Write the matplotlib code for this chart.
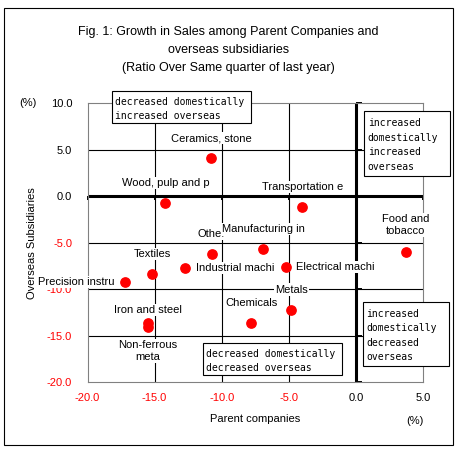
import numpy as np
import matplotlib
matplotlib.use('Agg')
import matplotlib.pyplot as plt
from matplotlib.patches import Rectangle

plt.rcParams['font.family'] = ['Liberation Sans', 'DejaVu Sans']

# Data
industries = ['Ceramics, stone', 'Wood, pulp and p', 'Transportation e', 'Othe.',
              'Manufacturing in', 'Food and\ntobacco', 'Textiles', 'Industrial machi',
              'Electrical machi', 'Precision instru', 'Metals', 'Chemicals',
              'Iron and steel', 'Non-ferrous\nmeta']
parent = [-10.8, -14.2, -4.0, -10.7, -6.9, 3.7, -15.2, -12.7, -5.2, -17.2, -4.8, -7.8, -15.5, -15.5]
overseas = [4.1, -0.7, -1.2, -6.2, -5.7, -6.0, -8.4, -7.7, -7.6, -9.2, -12.2, -13.6, -14.1, -13.6]

x_ticks = [-20, -15, -10, -5, 0, 5]
y_ticks = [-20, -15, -10, -5, 0, 5, 10]

# label placement (offset in points, ha)
label_pos = [((0, 14.4), 'center'), ((0, 14.4), 'center'), ((0, 14.4), 'center'),
             ((-1.2, 14.4), 'center'), ((0, 14.4), 'center'), ((0, 19.4), 'center'),
             ((0, 14.4), 'center'), ((7.7, 0), 'left'), ((7.2, 0), 'left'),
             ((-7.9, 0), 'right'), ((0, 14.4), 'center'), ((0, 14.4), 'center'),
             ((0, 12.6), 'center'), ((0, -20.5), 'center')]

W, H = 456, 451
fig = plt.figure(figsize=(W / 100, H / 100), dpi=100)
ax = fig.add_axes([87.5 / W, 1 - 382 / H, 335.5 / W, 278.7 / H])
ax.set_xlim(-20, 5)
ax.set_ylim(-20, 10)

for s in ax.spines.values():
    s.set_color('#808080')
    s.set_linewidth(0.8)

# interior grid lines
for v in x_ticks[1:-1]:
    if v != 0:
        ax.axvline(v, color='black', lw=0.8, zorder=1)
for v in y_ticks[1:-1]:
    if v != 0:
        ax.axhline(v, color='black', lw=0.8, zorder=1)
ax.axvline(0, color='black', lw=2.2, zorder=2)
ax.axhline(0, color='black', lw=2.2, zorder=2)
ax.plot(np.zeros(len(y_ticks)), y_ticks, ls='none', marker=1, ms=4, mew=1.4,
        color='black', zorder=2, clip_on=False)
ax.plot(x_ticks, np.zeros(len(x_ticks)), ls='none', marker=3, ms=3, mew=1.4,
        color='black', zorder=2, clip_on=False)

ax.scatter(parent, overseas, s=45, color='#ff0000', zorder=6, clip_on=False)

for name, x, y, (off, ha) in zip(industries, parent, overseas, label_pos):
    ax.annotate(name, (x, y), xytext=off, textcoords='offset points', ha=ha,
                va='center', fontsize=8, zorder=5, multialignment='center',
                bbox=dict(boxstyle='square,pad=0.1', fc='white', ec='none'))

ax.set_xticks(x_ticks)
ax.set_xticklabels([f'{v:.1f}' for v in x_ticks])
ax.set_yticks(y_ticks)
ax.set_yticklabels([f'{v:.1f}' for v in y_ticks])
ax.tick_params(axis='both', length=0, labelsize=8)
ax.tick_params(axis='y', pad=11)
ax.tick_params(axis='x', pad=8)
for lab, v in zip(ax.get_xticklabels(), x_ticks):
    lab.set_color('red' if v < 0 else 'black')
for lab, v in zip(ax.get_yticklabels(), y_ticks):
    lab.set_color('red' if v < 0 else 'black')

ax.set_xlabel('Parent companies', fontsize=8)
ax.set_ylabel('Overseas Subsidiaries', fontsize=8, va='center')
ax.xaxis.set_label_coords(0.5, -0.115)
ax.yaxis.set_label_coords(-0.165, 0.5)

fig.text(28 / W, 1 - 103 / H, '(%)', fontsize=8, ha='center', va='center')
fig.text(415 / W, 1 - 420.7 / H, '(%)', fontsize=8, ha='center', va='center')

fig.text(228.5 / W, 1 - 50 / H,
         'Fig. 1: Growth in Sales among Parent Companies and\noverseas subsidiaries\n'
         '(Ratio Over Same quarter of last year)',
         fontsize=9, ha='center', va='center', linespacing=1.65)

# quadrant boxes: text, box left, top, right, bottom, text offset (px)
boxes = [('decreased domestically\nincreased overseas', 111.7, 91, 250.7, 123.3, 5.7),
         ('increased\ndomestically\nincreased\noverseas', 364.3, 111, 450, 176.3, 7.3),
         ('decreased domestically\ndecreased overseas', 203, 343, 342, 375, 5.7),
         ('increased\ndomestically\ndecreased\noverseas', 363, 302, 449, 366, 6.7)]
for txt, x0, y0, x1, y1, dy in boxes:
    fig.patches.append(Rectangle((x0 / W, 1 - y1 / H), (x1 - x0) / W, (y1 - y0) / H,
                                 transform=fig.transFigure, fc='white', ec='black',
                                 lw=0.8, zorder=9))
    fig.text((x0 + 3.4) / W, 1 - (y0 + dy) / H, txt, family='DejaVu Sans Mono',
             fontsize=7, ha='left', va='top', linespacing=1.55, zorder=10)

fig.patches.append(Rectangle((4 / W, 1 - 445 / H), 449 / W, 437 / H,
                             transform=fig.transFigure, fill=False, ec='black', lw=0.8))

fig.savefig('out.png', dpi=100)
